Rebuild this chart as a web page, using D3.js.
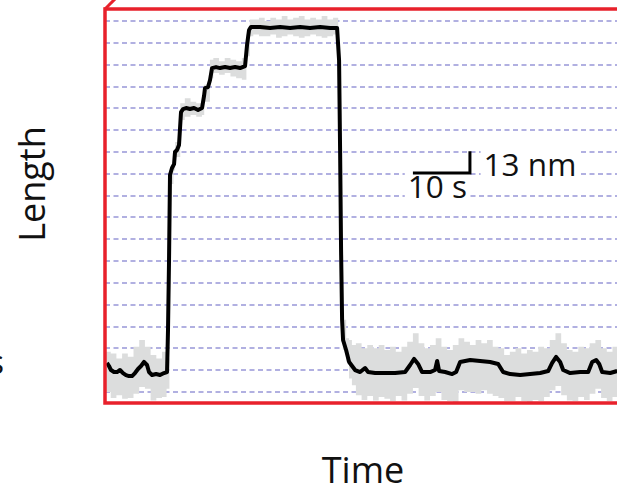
<!DOCTYPE html>
<html>
  <head>
    <title>Length trace</title>
    <script src="https://cdn.jsdelivr.net/npm/d3@7"></script>
    <style>
      body { margin: 0; background: #fff; }
      text { font-family: 'Open Sans', sans-serif; fill: #111; }
    </style>
  </head>
  <body>
    <svg width="617" height="494" id="mainsvg"></svg>
    <script>
      // black (filtered) trace: time in s, length in nm
      const traceTime = [0.35, 0.7, 1.05, 1.58, 2.11, 2.63, 3.16, 3.68, 4.21, 4.74, 5.26, 5.79, 6.32, 6.84, 7.37, 7.72, 8.25, 8.95, 9.65, 10.35, 10.88,
        11.05, 11.23, 11.4, 11.75, 12.11, 12.28, 12.63, 12.98, 13.33, 13.68, 14.21, 14.91, 15.61, 16.32, 17.02, 17.37, 17.54, 18.07, 18.42, 18.77,
        19.47, 20.18, 21.05, 21.93, 22.81, 23.68, 24.56, 24.91, 25.26, 25.61, 27.19, 28.95, 30.7, 32.46, 34.21, 35.96, 37.72, 39.47, 40.7,
        41.05, 41.23, 41.4, 41.58, 41.75, 42.28, 42.81, 43.33, 43.86, 44.74, 45.61, 46.14, 47.37, 49.12, 50.88, 52.63, 53.51, 54.21, 54.91,
        55.61, 57.02, 57.89, 58.25, 58.6, 59.65, 60.88, 61.58, 62.28, 64.04, 65.79, 67.54, 68.95, 69.82, 71.05, 72.81, 74.56, 76.32, 77.72,
        78.42, 79.12, 79.82, 80.35, 81.58, 83.33, 84.74, 85.44, 86.14, 86.67, 87.19, 88.6, 89.82];
      const traceLength = [17.3, 15.5, 13.1, 11.9, 11.9, 13.1, 11.3, 10.1, 9.5, 9.5, 11.3, 13.7, 15.5, 17.9, 16.1, 11.9, 10.1, 10.7, 10.1, 11.3, 11.9,
        37, 78.6, 129.3, 133.5, 135.8, 143, 144.2, 147.2, 166.8, 168.6, 169.2, 168.6, 169.2, 168, 169.2, 176.4, 181.1, 181.7, 185.9, 193,
        193.6, 193, 193.6, 193, 193.6, 193, 194.2, 206.7, 215.7, 217.5, 217.5, 216.9, 217.5, 216.9, 217.5, 216.9, 217.5, 216.9, 216.9,
        197.8, 144.2, 84.6, 42.9, 31, 25, 17.9, 15.5, 13.1, 11.9, 14.3, 11.9, 11.3, 11.3, 11.3, 11.9, 16.1, 19.7, 16.7,
        11.9, 11.9, 13.1, 18.5, 12.5, 11.9, 10.7, 11.9, 17.9, 19.1, 18.5, 17.9, 16.7, 11.9, 10.7, 10.1, 10.7, 11.3, 12.5,
        17.3, 20.9, 17.9, 13.1, 11.3, 11.9, 11.9, 17.9, 19.1, 16.7, 11.9, 11.3, 12.5];

      // grey (raw) envelope: time in s, upper / lower length in nm
      const bandTime = [0, 1, 2, 3, 4, 5, 6, 7, 8, 9, 10, 10.8, 11.3, 12, 12.3, 13.2, 14, 15, 16, 17, 17.4, 18.4, 19, 20, 21, 22, 23, 24,
        24.8, 25.4, 26, 27, 28, 29, 30, 31, 32, 33, 34, 35, 36, 37, 38, 39, 40, 40.9, 41.2, 41.4, 41.7, 42.3, 42.8, 43.3, 44, 45, 46, 47, 48,
        49, 50, 51, 52, 53, 54, 55, 56, 57, 58, 59, 60, 61, 62, 63, 64, 65, 66, 67, 68, 69, 70, 71, 72, 73, 74, 75, 76, 77, 78, 79, 80,
        81, 82, 83, 84, 85, 86, 87, 88, 89, 90, 94];
      const bandHigh = [24, 23, 20, 23, 21, 27, 31, 27, 22, 20, 24, 20, 132, 142, 149, 172, 175, 173, 172, 175, 183, 198, 199, 197, 199, 198, 197, 199,
        213, 222, 222, 223, 221, 223, 222, 224, 222, 223, 224, 222, 223, 222, 224, 222, 223, 205, 150, 60, 43, 32, 31, 28, 29, 26, 28, 26, 28,
        25, 27, 24, 27, 30, 35, 29, 26, 28, 32, 27, 25, 28, 32, 30, 28, 31, 29, 31, 27, 26, 22, 24, 26, 23, 25, 24, 27, 26, 31, 35, 29,
        25, 24, 27, 26, 29, 31, 26, 24, 27, 25, 25];
      const bandLow = [0, -3.6, -2, -4, -3.6, -1, 3, 2, -5, -3.6, -3, 2, 124, 132, 140, 162, 164, 165, 164, 165, 173, 187, 190, 189, 190, 188, 187, 186,
        200, 212, 213, 212, 212, 213, 211, 212, 213, 212, 211, 212, 213, 212, 211, 212, 213, 190, 100, 30, 25, 18, 8, 4, -2, -4.8, -2.4, -5, -3,
        -4, -5.4, -2.4, -5, -1, 2.4, -2.4, -5, -2.4, 0, -4.8, -5.4, -6, 1, 0, 0, -1, 1, -1, -2.4, -3.6, -5.4, -5.4, -3, -5.4, -6, -4.8, -5.4, -3, 1, 3.6, -2,
        -5, -5.4, -3, -4.8, -1, 2, -3.6, -5.4, -3, -4, -4];

      const gridTicks = [0, 13, 26, 39, 52, 65, 78, 91, 104, 117, 130, 143, 156, 169, 182, 195, 208, 221];
      const scaleBarTime = [54, 64];      // 10 s
      const scaleBarLength = [130.5, 143.5]; // 13 nm

      const svg = d3.select('#mainsvg');
      const frame = {left: 105, top: 9, right: 641, bottom: 403};

      const xScale = d3.scaleLinear().domain([0, 94]).range([frame.left, frame.right]);
      const yScale = d3.scaleLinear().domain([-6.55, 228.2]).range([frame.bottom, frame.top]);

      svg.append('clipPath').attr('id', 'plotclip')
        .append('rect')
        .attr('x', frame.left).attr('y', frame.top)
        .attr('width', frame.right - frame.left).attr('height', frame.bottom - frame.top);

      // dashed grid
      const gridAxis = d3.axisLeft(yScale).tickValues(gridTicks)
        .tickSize(-(frame.right - frame.left)).tickFormat('');
      const gridGroup = svg.append('g')
        .attr('transform', `translate(${frame.left}, 0)`)
        .call(gridAxis);
      gridGroup.selectAll('.domain').remove();
      gridGroup.selectAll('.tick')
        .attr('transform', d => `translate(0, ${Math.round(yScale(d))})`);
      gridGroup.selectAll('.tick line')
        .attr('stroke', '#9896d8')
        .attr('stroke-width', 1.6)
        .attr('stroke-dasharray', '5,3.5');

      const g = svg.append('g').attr('clip-path', 'url(#plotclip)');

      const bandData = bandTime.map((t, i) => ({t: t, hi: bandHigh[i], lo: bandLow[i]}));
      const band = d3.area()
        .x(d => xScale(d.t))
        .y0(d => yScale(d.lo))
        .y1(d => yScale(d.hi))
        .curve(d3.curveStepAfter);
      g.append('path')
        .datum(bandData)
        .attr('d', band)
        .attr('fill', '#dcdddd');

      const traceData = traceTime.map((t, i) => ({t: t, v: traceLength[i]}));
      const line = d3.line()
        .x(d => xScale(d.t))
        .y(d => yScale(d.v));
      g.append('path')
        .datum(traceData)
        .attr('d', line)
        .attr('fill', 'none')
        .attr('stroke', '#000')
        .attr('stroke-width', 4)
        .attr('stroke-linejoin', 'round');

      // scale bar labels with white boxes behind them
      const labels = [
        {text: '13 nm', t: 66.4, v: 128.5},
        {text: '10 s', t: 53.1, v: 115.5}
      ];
      const labelGroup = svg.append('g');
      labels.forEach(lb => {
        const box = labelGroup.append('rect').attr('fill', '#fff');
        const txt = labelGroup.append('text')
          .attr('x', xScale(lb.t))
          .attr('y', yScale(lb.v))
          .attr('font-size', 31.5)
          .text(lb.text);
        const bb = txt.node().getBBox();
        box.attr('x', bb.x - 3).attr('y', bb.y + 4)
          .attr('width', bb.width + 6).attr('height', bb.height - 6);
      });

      svg.append('path')
        .attr('d', `M${xScale(scaleBarTime[0])},${yScale(scaleBarLength[0])}H${xScale(scaleBarTime[1])}V${yScale(scaleBarLength[1])}`)
        .attr('fill', 'none')
        .attr('stroke', '#000')
        .attr('stroke-width', 3);

      // red box
      svg.append('rect')
        .attr('x', frame.left).attr('y', frame.top)
        .attr('width', frame.right - frame.left).attr('height', frame.bottom - frame.top)
        .attr('fill', 'none')
        .attr('stroke', '#e8212b')
        .attr('stroke-width', 3.5);
      svg.append('line')
        .attr('x1', frame.left).attr('y1', frame.top)
        .attr('x2', frame.left + 12).attr('y2', frame.top - 12)
        .attr('stroke', '#e8212b')
        .attr('stroke-width', 3);

      // axis titles
      svg.append('text')
        .attr('transform', `translate(45, 184) rotate(-90)`)
        .attr('text-anchor', 'middle')
        .attr('font-size', 36)
        .text('Length');
      svg.append('text')
        .attr('x', 363).attr('y', 483)
        .attr('text-anchor', 'middle')
        .attr('font-size', 36)
        .text('Time');
      svg.append('text')
        .attr('x', 4).attr('y', 374)
        .attr('text-anchor', 'end')
        .attr('font-size', 32)
        .text('s');
    </script>
  </body>
</html>
